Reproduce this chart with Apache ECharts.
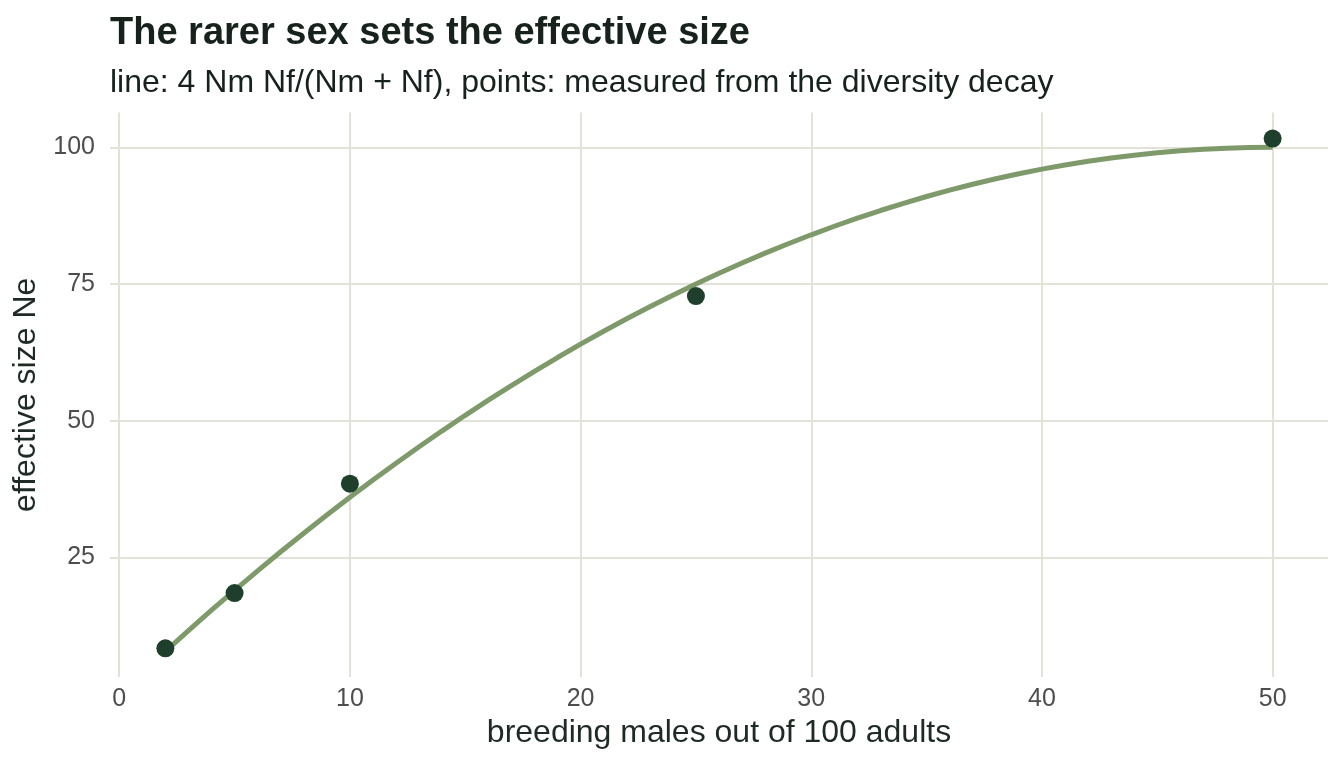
<!DOCTYPE html>
<html>
<head>
<meta charset="utf-8">
<script src="https://cdn.jsdelivr.net/npm/echarts@6/dist/echarts.min.js"></script>
<style>
  html, body { margin: 0; padding: 0; background: #fff; }
  #chart { width: 1344px; height: 768px; }
</style>
</head>
<body>
<div id="chart"></div>
<script>
// theoretical curve 4 Nm Nf/(Nm + Nf) with Nm + Nf = 100, read at whole Nm
const curveMales = [2, 3, 4, 5, 6, 7, 8, 9, 10, 11, 12, 13, 14, 15, 16, 17, 18, 19, 20, 21, 22, 23, 24, 25, 26,
  27, 28, 29, 30, 31, 32, 33, 34, 35, 36, 37, 38, 39, 40, 41, 42, 43, 44, 45, 46, 47, 48, 49, 50];
const curveNe = [7.84, 11.64, 15.36, 19.0, 22.56, 26.04, 29.44, 32.76, 36.0, 39.16, 42.24, 45.24, 48.16, 51.0,
  53.76, 56.44, 59.04, 61.56, 64.0, 66.36, 68.64, 70.84, 72.96, 75.0, 76.96, 78.84, 80.64, 82.36, 84.0, 85.56,
  87.04, 88.44, 89.76, 91.0, 92.16, 93.24, 94.24, 95.16, 96.0, 96.76, 97.44, 98.04, 98.56, 99.0, 99.36, 99.64,
  99.84, 99.96, 100.0];

// measured from the diversity decay
const measuredMales = [2, 5, 10, 25, 50];
const measuredNe = [8.4, 18.5, 38.5, 72.8, 101.6];

const xTicks = [0, 10, 20, 30, 40, 50];
const yTicks = [25, 50, 75, 100];

const font = 'Liberation Sans, Arial, Helvetica, sans-serif';
const gridColor = '#e2e2d8';

const chart = echarts.init(document.getElementById('chart'));

chart.setOption({
  animation: false,
  backgroundColor: '#ffffff',
  title: [
    {
      text: 'The rarer sex sets the effective size',
      left: 105, top: 10,
      textStyle: { fontFamily: font, fontSize: 38, fontWeight: 'bold', color: '#17221c' }
    },
    {
      text: 'line: 4 Nm Nf/(Nm + Nf), points: measured from the diversity decay',
      left: 105, top: 62,
      textStyle: { fontFamily: font, fontSize: 32, fontWeight: 'normal', color: '#17221c' }
    }
  ],
  grid: { left: 110, right: 16, top: 112.6, bottom: 91, containLabel: false },
  xAxis: {
    type: 'value',
    min: -0.4, max: 52.4,
    name: 'breeding males out of 100 adults',
    nameLocation: 'middle',
    nameGap: 39,
    nameTextStyle: { fontFamily: font, fontSize: 32, color: '#1f2a24' },
    axisLine: { show: false },
    axisTick: { show: false, customValues: xTicks },
    axisLabel: { customValues: xTicks, margin: 10, fontFamily: font, fontSize: 25, color: '#4d4d4d' },
    splitLine: { show: true, lineStyle: { color: gridColor, width: 2 } }
  },
  yAxis: {
    type: 'value',
    min: 3.15, max: 106.34,
    name: 'effective size Ne',
    nameLocation: 'middle',
    nameGap: 64,
    nameTextStyle: { fontFamily: font, fontSize: 32, color: '#1f2a24' },
    axisLine: { show: false },
    axisTick: { show: false, customValues: yTicks },
    axisLabel: { customValues: yTicks, margin: 15, fontFamily: font, fontSize: 25, color: '#4d4d4d' },
    splitLine: { show: true, lineStyle: { color: gridColor, width: 2 } }
  },
  series: [
    {
      name: 'theory',
      type: 'line',
      data: curveMales.map((m, i) => [m, curveNe[i]]),
      showSymbol: false,
      smooth: false,
      lineStyle: { color: '#7f9a6a', width: 5 },
      z: 2
    },
    {
      name: 'measured',
      type: 'scatter',
      data: measuredMales.map((m, i) => [m, measuredNe[i]]),
      symbolSize: 18,
      itemStyle: { color: '#1e3f2b', opacity: 1 },
      z: 3
    }
  ]
});
</script>
</body>
</html>
